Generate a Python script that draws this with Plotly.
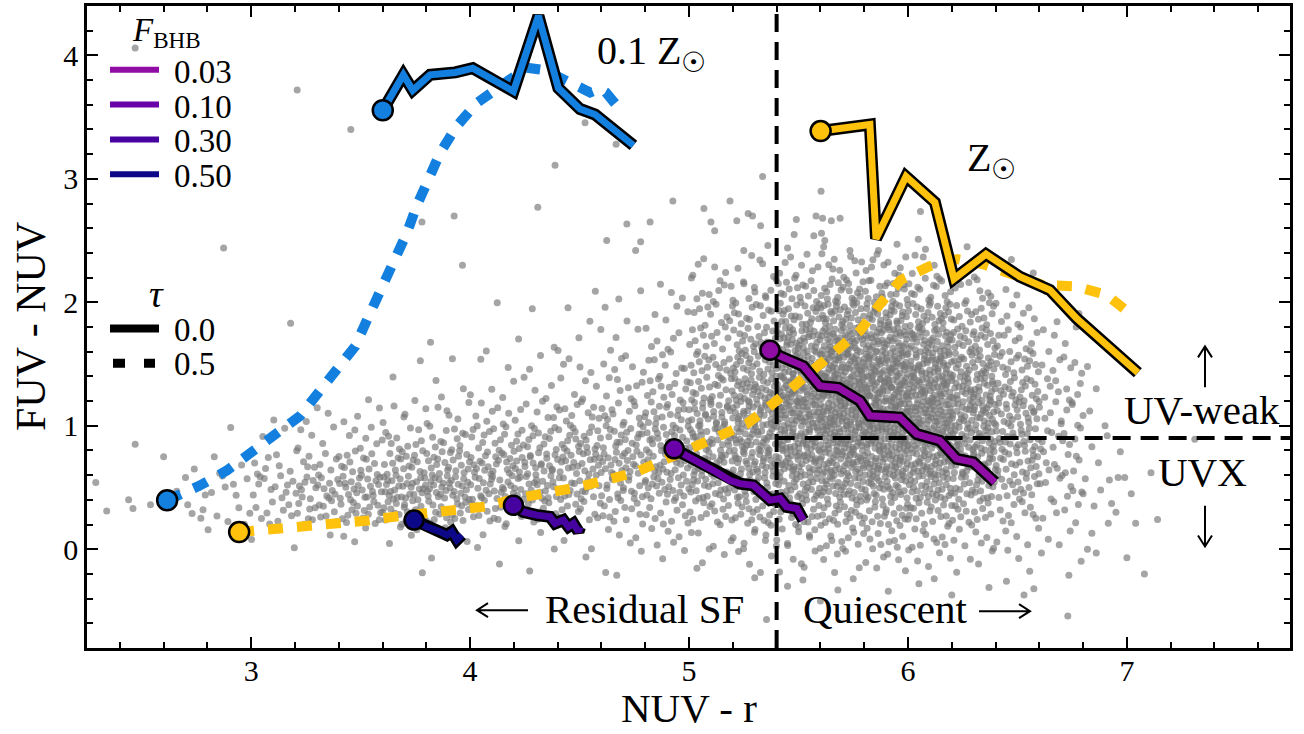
import plotly.graph_objects as go

FONT = "Liberation Serif"

# ---------------- axes ----------------
X_RANGE = [2.25, 7.745]
Y_RANGE = [-0.8, 4.4]

# ---------------- model tracks (NUV - r, FUV - NUV) ----------------
# 0.1 Z_sun, tau = 0.0
z01_tau0_x = [3.601, 3.695, 3.738, 3.817, 3.932, 4.012, 4.198, 4.312, 4.403, 4.502, 4.571, 4.746]
z01_tau0_y = [3.556, 3.842, 3.717, 3.842, 3.862, 3.896, 3.709, 4.320, 3.735, 3.566, 3.521, 3.271]
# 0.1 Z_sun, tau = 0.5
z01_tau5_x = [2.616, 2.767, 2.889, 3.006, 3.114, 3.224, 3.307, 3.391, 3.475, 3.536, 3.589, 3.658,
              3.711, 3.757, 3.806, 3.863, 3.939, 4.031, 4.137, 4.259, 4.342, 4.464, 4.548, 4.590,
              4.620, 4.685]
z01_tau5_y = [0.397, 0.517, 0.638, 0.785, 0.933, 1.081, 1.268, 1.456, 1.644, 1.885, 2.086, 2.328,
              2.561, 2.786, 2.998, 3.210, 3.427, 3.615, 3.749, 3.900, 3.880, 3.760, 3.700, 3.730,
              3.700, 3.560]
# Z_sun, tau = 0.0
zsun_tau0_x = [5.601, 5.826, 5.854, 5.991, 6.123, 6.210, 6.356, 6.511, 6.648, 6.770, 7.050]
zsun_tau0_y = [3.387, 3.440, 2.515, 3.019, 2.810, 2.190, 2.390, 2.208, 2.100, 1.870, 1.430]
# Z_sun, tau = 0.5
zsun_tau5_x = [2.945, 3.119, 3.256, 3.393, 3.521, 3.648, 3.808, 3.945, 4.082, 4.215, 4.352, 4.489,
               4.616, 4.753, 4.881, 5.014, 5.142, 5.265, 5.370, 5.475, 5.589, 5.689, 5.781, 5.870,
               5.967, 6.096, 6.226, 6.340, 6.486, 6.616, 6.763, 6.908, 7.013]
zsun_tau5_y = [0.139, 0.163, 0.183, 0.204, 0.230, 0.262, 0.292, 0.308, 0.348, 0.413, 0.453, 0.501,
               0.558, 0.622, 0.718, 0.823, 0.920, 1.016, 1.160, 1.320, 1.480, 1.630, 1.770, 1.980,
               2.180, 2.290, 2.350, 2.310, 2.210, 2.140, 2.130, 2.060, 1.910]

# BHB tracks, tau = 0.0
fbhb_labels = ["0.03", "0.10", "0.30", "0.50"]
fbhb_colors = ["#8f0da4", "#6a00a8", "#46039f", "#0d0887"]
bhb003_x = [5.370, 5.416, 5.522, 5.598, 5.682, 5.781, 5.826, 5.963, 6.040, 6.146, 6.222, 6.298, 6.397]
bhb003_y = [1.612, 1.564, 1.483, 1.322, 1.308, 1.202, 1.081, 1.067, 0.933, 0.879, 0.732, 0.705, 0.544]
bhb010_x = [4.932, 5.005, 5.065, 5.126, 5.187, 5.233, 5.294, 5.339, 5.370, 5.416, 5.446, 5.492, 5.522]
bhb010_y = [0.813, 0.745, 0.678, 0.624, 0.557, 0.531, 0.517, 0.451, 0.398, 0.410, 0.343, 0.330, 0.236]
bhb030_x = [4.198, 4.243, 4.305, 4.365, 4.388, 4.426, 4.449, 4.472, 4.495, 4.502]
bhb030_y = [0.356, 0.302, 0.276, 0.262, 0.209, 0.236, 0.182, 0.209, 0.142, 0.179]
bhb050_x = [3.744, 3.802, 3.863, 3.894, 3.916, 3.939, 3.962]
bhb050_y = [0.236, 0.182, 0.142, 0.115, 0.142, 0.075, 0.115]

BLUE = "#137fdf"
YELLOW = "#fec10c"

# ---------------- galaxy sample ----------------
# counts per 0.2 x 0.2 mag cell; one list per NUV-r column,
# rows from FUV-NUV 2.2-2.4 down to -0.2-0.0
cloud_col_left = [2.8, 3.0, 3.2, 3.4, 3.6, 3.8, 4.0, 4.2, 4.4, 4.6,
                  4.8, 5.0, 5.2, 5.4, 5.6, 5.8, 6.0, 6.2, 6.4, 6.6]
cloud_row_bottom = [2.2, 2.0, 1.8, 1.6, 1.4, 1.2, 1.0, 0.8, 0.6, 0.4, 0.2, 0.0, -0.2]
cloud_counts = [
    [0, 0, 0, 0, 0, 0, 0, 1, 3, 6, 5, 1, 0],
    [0, 0, 0, 0, 0, 0, 1, 2, 7, 11, 9, 2, 0],
    [0, 0, 0, 0, 0, 0, 3, 5, 10, 18, 14, 2, 0],
    [0, 0, 0, 0, 0, 1, 3, 7, 14, 24, 18, 3, 0],
    [0, 0, 0, 0, 1, 2, 5, 10, 18, 30, 22, 4, 1],
    [0, 0, 0, 1, 1, 3, 6, 12, 22, 30, 18, 3, 1],
    [0, 0, 1, 1, 2, 4, 7, 14, 22, 24, 14, 3, 1],
    [0, 0, 1, 2, 2, 4, 9, 17, 24, 24, 14, 3, 1],
    [0, 1, 2, 3, 4, 5, 11, 19, 24, 22, 12, 3, 1],
    [0, 2, 2, 3, 6, 8, 14, 19, 24, 19, 12, 4, 2],
    [0, 3, 4, 6, 9, 12, 18, 24, 26, 22, 12, 5, 2],
    [5, 9, 10, 13, 16, 20, 27, 29, 29, 24, 14, 6, 3],
    [5, 10, 14, 20, 27, 34, 37, 37, 34, 27, 17, 9, 4],
    [8, 15, 26, 37, 45, 50, 50, 47, 42, 32, 19, 10, 5],
    [10, 20, 33, 45, 55, 60, 58, 52, 45, 34, 21, 11, 5],
    [10, 20, 33, 45, 55, 60, 60, 55, 47, 34, 21, 11, 6],
    [7, 15, 26, 37, 47, 52, 55, 50, 42, 32, 19, 10, 5],
    [4, 9, 16, 24, 32, 37, 40, 37, 32, 24, 14, 8, 4],
    [2, 4, 8, 12, 17, 22, 24, 24, 22, 17, 10, 5, 3],
    [0, 1, 3, 5, 7, 9, 11, 11, 10, 9, 6, 3, 2],
]
# individual galaxies outside the gridded region
sparse_x = [2.29, 2.34, 2.44, 2.46, 2.47, 2.54, 2.60, 2.70, 2.74, 2.71, 2.73, 2.77, 2.78, 2.66, 2.76, 2.79,
            2.47, 3.21, 3.455, 2.874, 3.78, 4.525, 4.667, 4.388, 4.309, 3.927, 4.926, 5.068, 5.187, 5.336,
            4.716, 4.822, 4.624, 4.779, 4.756, 5.10, 5.117, 5.218, 5.27, 5.29, 5.327, 5.25, 5.36, 5.49,
            5.603, 5.58, 5.61, 5.65, 5.69, 5.57, 5.605, 5.62, 5.615, 5.735, 5.865, 6.057, 6.047, 6.08,
            6.27, 5.48, 5.45, 5.95, 3.965, 3.18,
            7.31, 7.11, 6.92, 6.96, 6.99, 6.97, 6.84, 6.81, 6.90, 6.91, 7.14, 7.04, 6.915, 6.93, 6.85,
            7.00, 7.08, 6.82, 6.86, 6.84, 6.80, 6.87, 6.83, 6.86, 6.82, 6.88, 6.95, 7.02,
            5.354, 5.91, 6.20, 6.37, 6.575, 6.53, 6.73, 6.735, 5.52, 5.45, 5.60, 6.05, 5.75, 6.45,
            4.67, 5.68, 6.12, 5.30]
sparse_y = [0.54, 0.31, 0.40, 0.33, 0.85, 0.36, 0.75, 0.58, 0.65, 0.36, 0.29, 0.25, 0.32, 0.47, 0.50, 0.44,
            4.06, 3.72, 3.40, 2.44, 2.65, 3.455, 3.28, 3.11, 2.77, 2.70, 2.82, 2.76, 2.82, 3.02,
            2.635, 2.65, 2.50, 2.49, 2.42, 2.65, 2.58, 2.66, 2.72, 2.70, 2.62, 2.42, 2.46, 2.67,
            2.90, 2.70, 2.68, 2.66, 2.68, 2.54, 2.56, 2.50, 2.45, 2.42, 2.42, 2.735, 2.51, 2.43,
            2.45, 2.55, 2.44, 2.47, 2.30, 1.83,
            0.89, 0.62, 0.56, 0.58, 0.58, 0.79, 0.83, 0.57, 1.00, 0.92, 0.24, 0.21, 0.21, 0.37, 0.35,
            -0.07, -0.20, 0.00, -0.03, 0.13, 0.45, 0.70, 1.12, 1.30, 1.48, 0.48, 0.30, 0.45,
            -0.57, -0.34, -0.37, -0.31, -0.32, -0.37, -0.54, -0.21, -0.25, -0.30, -0.42, -0.28, -0.24, -0.26,
            -0.21, -0.33, -0.24, -0.23]


def halton(i, base):
    f, r = 1.0, 0.0
    while i > 0:
        f /= base
        r += f * (i % base)
        i //= base
    return r


# spread each cell's galaxies over the cell with a running Halton sequence
gal_x, gal_y = [], []
idx = 17
for i, column in enumerate(cloud_counts):
    for j, n in enumerate(column):
        for _ in range(n):
            gal_x.append(cloud_col_left[i] + 0.2 * halton(idx, 2))
            gal_y.append(cloud_row_bottom[j] + 0.2 * halton(idx, 3))
            idx += 1
gal_x += sparse_x
gal_y += sparse_y

fig = go.Figure()

fig.add_trace(go.Scatter(
    x=gal_x, y=gal_y, mode="markers", hoverinfo="skip",
    marker=dict(size=7, color="rgba(118,118,118,0.66)", line=dict(width=0)),
))

# residual-SF / quiescent and UVX / UV-weak boundaries
NUV_R_CUT = 5.4
FUV_NUV_CUT = 0.9
fig.add_trace(go.Scatter(x=[NUV_R_CUT, NUV_R_CUT], y=[Y_RANGE[0], Y_RANGE[1]], mode="lines",
                         line=dict(color="black", width=4, dash="18px,10px"), hoverinfo="skip"))
fig.add_trace(go.Scatter(x=[NUV_R_CUT, 7.9], y=[FUV_NUV_CUT, FUV_NUV_CUT], mode="lines",
                         line=dict(color="black", width=4, dash="18px,10px"), hoverinfo="skip"))


def dashed_track(xs, ys, color):
    fig.add_trace(go.Scatter(x=xs, y=ys, mode="lines", hoverinfo="skip",
                             line=dict(color=color, width=10, dash="15px,14px")))


def solid_track(xs, ys, color, outer=12, inner=7):
    fig.add_trace(go.Scatter(x=xs, y=ys, mode="lines", hoverinfo="skip",
                             line=dict(color="black", width=outer)))
    fig.add_trace(go.Scatter(x=xs, y=ys, mode="lines", hoverinfo="skip",
                             line=dict(color=color, width=inner)))


def start_marker(x, y, color, size=20):
    fig.add_trace(go.Scatter(x=[x], y=[y], mode="markers", hoverinfo="skip",
                             marker=dict(size=size, color=color, line=dict(color="black", width=2.5))))


dashed_track(z01_tau5_x, z01_tau5_y, BLUE)
dashed_track(zsun_tau5_x, zsun_tau5_y, YELLOW)
start_marker(z01_tau5_x[0], z01_tau5_y[0], BLUE)
start_marker(zsun_tau5_x[0], zsun_tau5_y[0], YELLOW)

solid_track(z01_tau0_x, z01_tau0_y, BLUE)
start_marker(z01_tau0_x[0], z01_tau0_y[0], BLUE)
solid_track(zsun_tau0_x, zsun_tau0_y, YELLOW)
start_marker(zsun_tau0_x[0], zsun_tau0_y[0], YELLOW)

for (bx, by), col in zip([(bhb003_x, bhb003_y), (bhb010_x, bhb010_y),
                          (bhb030_x, bhb030_y), (bhb050_x, bhb050_y)], fbhb_colors):
    solid_track(bx, by, col, outer=12, inner=7)
    start_marker(bx[0], by[0], col, size=19)

# ---------------- text ----------------
PL, PR, PT, PB = 87, 1290, 3, 648


def px(p):
    return (p - PL) / (PR - PL)


def py(p):
    return (PB - p) / (PB - PT)


ann = []


def text(x, y, s, size, xanchor="left", ref="data", yanchor="middle", **kw):
    ann.append(dict(x=x, y=y, xref="x" if ref == "data" else "paper", yref="y" if ref == "data" else "paper",
                    text=s, showarrow=False, xanchor=xanchor, yanchor=yanchor,
                    font=dict(family=FONT, size=size, color="black"), **kw))


text(4.571, 4.02, "0.1 Z<sub>☉</sub>", 40)
text(6.26, 3.15, "Z<sub>☉</sub>", 40)
text(7.345, 1.127, "UV-weak", 41, xanchor="center")
text(7.347, 0.629, "UVX", 41, xanchor="center")
text(4.333, -0.488, "Residual SF", 41)
text(5.511, -0.488, "Quiescent", 41)

# axis titles
text(0.5, py(708), "NUV - r", 41, xanchor="center", ref="paper")
ann.append(dict(x=px(31), y=0.5, xref="paper", yref="paper", text="FUV - NUV", showarrow=False,
                textangle=-90, xanchor="center", yanchor="middle",
                font=dict(family=FONT, size=42, color="black")))

# legends
text(px(131), py(51), "<i>F</i><sub>BHB</sub>", 33, ref="paper", yanchor="bottom", borderpad=0)
text(px(156), py(292), "<i>τ</i>", 38, xanchor="center", ref="paper")
for k, lbl in enumerate(fbhb_labels):
    text(px(172), py(69 + 35 * k), lbl, 33, ref="paper")
text(px(172), py(329), "0.0", 33, ref="paper")
text(px(172), py(363), "0.5", 33, ref="paper")

shapes = []
for k, col in enumerate(fbhb_colors):
    yk = py(67 + 35 * k)
    shapes.append(dict(type="line", xref="paper", yref="paper", x0=px(110), x1=px(159), y0=yk, y1=yk,
                       line=dict(color=col, width=6)))
shapes.append(dict(type="line", xref="paper", yref="paper", x0=px(110), x1=px(159), y0=py(327), y1=py(327),
                   line=dict(color="black", width=8)))
shapes.append(dict(type="line", xref="paper", yref="paper", x0=px(113), x1=px(155), y0=py(362), y1=py(362),
                   line=dict(color="black", width=9, dash="12px,19px")))


def arrow_path(pts_list):
    parts = []
    for pts in pts_list:
        parts.append("M " + " L ".join(f"{px(a):.5f},{py(b):.5f}" for a, b in pts))
    return " ".join(parts)


arrows = [
    [[(1205, 386), (1205, 345)], [(1198, 356), (1205, 345), (1212, 356)]],
    [[(1205, 505), (1205, 546)], [(1198, 535), (1205, 546), (1212, 535)]],
    [[(477, 610), (528, 610)], [(488, 603), (477, 610), (488, 617)]],
    [[(979, 611), (1030, 611)], [(1019, 604), (1030, 611), (1019, 618)]],
]
for a in arrows:
    shapes.append(dict(type="path", xref="paper", yref="paper", path=arrow_path(a),
                       line=dict(color="black", width=2)))

axis_common = dict(showline=True, linecolor="black", linewidth=2.5, mirror="ticks",
                   ticks="inside", ticklen=11, tickwidth=1.5, tickcolor="black",
                   showgrid=False, zeroline=False, tickmode="linear", tick0=0, dtick=1,
                   tickfont=dict(family=FONT, size=30, color="black"),
                   minor=dict(ticks="inside", ticklen=6, tickwidth=1.5, tickcolor="black",
                              tick0=0, dtick=0.2, showgrid=False))

fig.update_xaxes(range=X_RANGE, ticklabelstandoff=-6, **axis_common)
fig.update_yaxes(range=Y_RANGE, ticklabelstandoff=0, **axis_common)
fig.update_layout(width=1304, height=734, margin=dict(l=PL, r=1304 - PR, t=PT, b=734 - PB),
                  paper_bgcolor="white", plot_bgcolor="white", showlegend=False,
                  annotations=ann, shapes=shapes, font=dict(family=FONT))

fig.write_html("out.html")
